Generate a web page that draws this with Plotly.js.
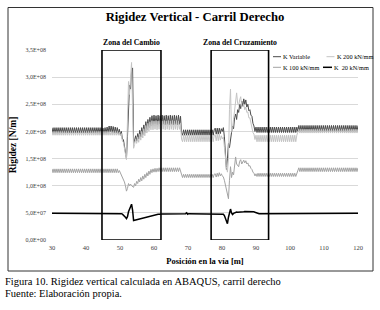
<!DOCTYPE html>
<html><head><meta charset="utf-8">
<script src="https://cdn.plot.ly/plotly-3.0.1.min.js"></script>
<style>html,body{margin:0;padding:0;background:#fff;overflow:hidden}#chart{width:380px;height:310px}</style>
</head><body><div id="chart"></div>
<script>
// Positions along the track: samples every 0.3 m starting at 30 m
const startPosition = 30;
const positionStep = 0.3;

// Stiffness values in units of 1E+06 N/m (one value per sample)
const kVariable = [
 207,197,207,197,207,197,207,197,207,197,
 207,197,207,197,207,197,207,197,207,197,
 207,197,207,197,207,197,207,197,207,197,
 207,197,207,197,207,197,207,197,207,197,
 207,197,207,197,207,197,207,197,207,197,
 206,196,207,197,208,198,210,199,210,198,
 209,197,208,197,207,196,204,
 194,200,186,185,170,165,150,190,265,285,
 278,310,317,178,184,192,182,196,186,202,
 190,207,194,212,198,218,203,222,207,226,
 210,229,212,230,213,229,212,230,213,229,
 212,230,213,229,212,230,213,229,212,230,
 213,229,212,230,213,229,212,230,213,228,
 198,193,203,193,203,193,203,193,203,193,
 203,193,203,193,203,193,203,193,203,193,
 203,193,203,193,203,193,203,193,203,193,
 203,193,203,206,195,206,195,206,196,205,
 200,207,190,150,130,150,178,170,190,198,
 210,205,225,232,222,240,235,250,242,256,
 246,260,250,258,245,250,238,240,230,228,
 215,210,200,208,
 198,208,198,208,198,208,198,208,198,208,
 198,208,198,208,198,208,198,208,198,208,
 198,208,198,208,198,208,198,208,198,208,
 198,208,198,208,198,208,198,208,198,208,
 200,211,200,211,200,211,200,211,200,211,
 200,211,200,211,200,211,200,211,200,211,
 200,211,200,211,200,211,200,211,200,211,
 200,211,200,211,200,211,200,211,200,211,
 200,211,200,211,200,211,200,211,200,211,
 200,211,200,211,200,211,200,211,200,211
];
const k200 = [
 200,193,200,193,200,193,200,193,200,193,
 200,193,200,193,200,193,200,193,200,193,
 200,193,200,193,200,193,200,193,200,193,
 200,193,200,193,200,193,200,193,200,193,
 200,193,200,193,200,193,200,193,200,193,
 200,193,200,193,200,193,200,193,200,193,
 200,193,200,193,200,193,199,
 192,196,182,180,166,160,148,220,292,268,
 300,327,240,169,176,186,178,190,180,195,
 184,200,188,205,192,211,197,215,201,218,
 203,220,203,219,204,220,203,219,204,220,
 203,219,204,220,203,219,204,220,203,219,
 204,220,203,219,204,220,203,219,204,215,
 186,181,193,181,193,181,193,181,193,181,
 193,181,193,181,193,181,193,181,193,181,
 193,181,193,181,193,181,193,181,193,181,
 193,181,193,194,183,195,183,195,184,192,
 186,190,172,150,135,125,150,240,278,200,
 205,222,240,258,271,252,248,258,264,248,
 245,250,240,245,235,236,225,225,215,210,
 198,195,185,193,
 181,193,181,193,181,193,181,193,181,193,
 181,193,181,193,181,193,181,193,181,193,
 181,193,181,193,181,193,181,193,181,193,
 181,193,181,193,181,193,181,193,181,193,
 197,204,197,204,197,204,197,204,197,204,
 197,204,197,204,197,204,197,204,197,204,
 197,204,197,204,197,204,197,204,197,204,
 197,204,197,204,197,204,197,204,197,204,
 197,204,197,204,197,204,197,204,197,204,
 197,204,197,204,197,204,197,204,197,204
];
const k100 = [
 131,124,131,124,131,124,131,124,131,124,
 131,124,131,124,131,124,131,124,131,124,
 131,124,131,124,131,124,131,124,131,124,
 131,124,131,124,131,124,131,124,131,124,
 131,124,131,124,131,124,131,124,131,124,
 131,124,131,124,131,124,131,124,131,124,
 131,124,131,124,131,124,128,
 124,121,117,113,107,100,90,95,104,100,
 103,100,98,97,104,100,108,104,112,107,
 115,109,118,112,121,115,124,118,127,121,
 130,124,131,125,132,125,132,126,133,126,
 133,126,133,126,133,126,133,126,133,126,
 133,126,133,126,133,126,133,126,133,126,
 120,115,121,115,121,115,121,115,121,115,
 121,115,121,115,121,115,121,115,121,115,
 121,115,121,115,121,115,121,115,121,115,
 121,115,121,122,116,123,117,124,118,122,
 118,116,110,100,95,85,76,110,135,115,
 125,120,140,153,140,137,135,145,148,140,
 145,147,142,146,140,142,136,137,132,130,
 125,123,118,122,
 117,123,117,123,117,123,117,123,117,123,
 117,123,117,123,117,123,117,123,117,123,
 117,123,117,123,117,123,117,123,117,123,
 117,123,117,123,117,123,117,123,117,123,
 126,133,126,133,126,133,126,133,126,133,
 126,133,126,133,126,133,126,133,126,133,
 126,133,126,133,126,133,126,133,126,133,
 126,133,126,133,126,133,126,133,126,133,
 126,133,126,133,126,133,126,133,126,133,
 126,133,126,133,126,133,126,133,126,133
];
const k20 = [
 49.5,49.5,49.5,49.5,49.5,49.5,49.5,49.5,49.5,49.5,
 49.5,49.5,49.5,49.5,49.5,49.5,49.5,49.5,49.5,49.5,
 49.5,49.5,49.5,49.5,49.5,49.5,49.5,49.5,49.5,49.5,
 49.5,49.5,49.5,49.5,49.5,49.5,49.5,49.5,49.5,49.5,
 49.5,49.5,49.5,49.5,49.5,49.5,49.5,49.5,49.5,49.5,
 49.5,49.5,49.5,49.5,49.5,49.5,49.5,49.5,49.5,49.5,
 49.5,49.5,49.5,49.5,49.5,49.5,49.5,
 49,48.5,47.5,46,44,42,39.5,43,52,58,
 62,66,55,36,36.5,37,38,38.5,39,39.5,
 40,40.5,41,41.5,42,42.5,43,43.5,44,44.5,
 45,45.5,46,46.5,47,47,47.5,47.5,47.5,48,
 48,48,48,48,48,48,48.5,48.5,48.5,48.5,
 48.5,48.5,48.5,48.5,48.5,48.5,48.5,48.5,48.5,48.5,
 48.5,48.5,48.5,48.5,48.5,50,47.5,48.5,48.5,48.5,
 48.5,48.5,48.5,48.5,48.5,48.5,48.5,48.5,48.5,48.5,
 48.5,48.5,48.5,48.5,48.5,48.5,48.5,48.5,48.5,48.5,
 48.5,48.5,48.5,48.5,48.5,48.5,48.5,48.5,48.5,48.5,
 48.5,47.5,45,40,34,30,42,52,57,50,
 47,49,50,51,51.5,51,51,51.5,52,52,
 52,52,52.5,52.5,52.5,52.5,52.5,52.5,53,53,
 52.5,52,51,50,
 49,48.5,48.5,48.5,48.5,48.5,48.5,48.5,48.5,48.5,
 48.5,48.5,48.5,48.5,48.5,48.5,48.5,48.5,48.5,48.5,
 48.5,48.5,48.5,48.5,48.5,48.5,48.5,48.5,48.5,48.5,
 48.5,48.5,48.5,48.5,48.5,48.5,48.5,48.5,48.5,48.5,
 49.5,49.5,49.5,49.5,49.5,49.5,49.5,49.5,49.5,49.5,
 49.5,49.5,49.5,49.5,49.5,49.5,49.5,49.5,49.5,49.5,
 49.5,49.5,49.5,49.5,49.5,49.5,49.5,49.5,49.5,49.5,
 49.5,49.5,49.5,49.5,49.5,49.5,49.5,49.5,49.5,49.5,
 49.5,49.5,49.5,49.5,49.5,49.5,49.5,49.5,49.5,49.5,
 49.5,49.5,49.5,49.5,49.5,49.5,49.5,49.5,49.5,49.5
];

const seriesNames = ['K Variable', 'K 200 kN/mm', 'K 100 kN/mm', 'K\u00a0 20 kN/mm'];
const xTickVals = [30, 40, 50, 60, 70, 80, 90, 100, 110, 120];
const yTickVals = [0, 50, 100, 150, 200, 250, 300, 350];
const yTickLabels = ['0,0E+00', '5,0E+07', '1,0E+08', '1,5E+08', '2,0E+08', '2,5E+08', '3,0E+08', '3,5E+08'];
const zoneNames = ['Zona del Cambio', 'Zona del Cruzamiento'];
const zoneStart = [44.7, 76.8];
const zoneEnd = [62.05, 93.7];
const captionLines = ['Figura 10. Rigidez vertical calculada en ABAQUS, carril derecho', 'Fuente: Elaboración propia.'];

const seriesValues = [kVariable, k200, k100, k20];
seriesValues.forEach((s, i) => { if (s.length !== 301) throw new Error('length mismatch ' + i + ': ' + s.length); });

// layout geometry (px)
const W = 380, H = 310, ML = 52, MR = 22, MT = 50, MB = 70;
const PW = W - ML - MR, PH = H - MT - MB;
const px = v => (v - ML) / PW;
const py = v => (H - MB - v) / PH;

const lineStyles = [
  {color: '#4a4a4a', width: 1},
  {color: '#c4c4c4', width: 1},
  {color: '#a3a3a3', width: 1},
  {color: '#000000', width: 1.5}
];
const serif = 'Liberation Serif';

const traces = seriesValues.map((vals, i) => ({
  type: 'scatter', mode: 'lines', x0: startPosition, dx: positionStep, y: vals, name: seriesNames[i],
  line: lineStyles[i], showlegend: false, hoverinfo: 'skip'
}));

const shapes = [];
const annotations = [];
zoneNames.forEach((name, i) => {
  shapes.push({type: 'rect', xref: 'x', yref: 'y', x0: zoneStart[i], x1: zoneEnd[i], y0: yTickVals[0], y1: yTickVals[yTickVals.length - 1],
    line: {color: '#000', width: 1.6}, fillcolor: 'rgba(0,0,0,0)'});
  annotations.push({xref: 'x', yref: 'paper', x: (zoneStart[i] + zoneEnd[i]) / 2, y: py(42), xanchor: 'center', yanchor: 'middle',
    text: '<b>' + name + '</b>', showarrow: false, font: {family: serif, size: 7.7, color: '#000'}});
});
// outer frame
shapes.push({type: 'rect', xref: 'paper', yref: 'paper', x0: px(8), x1: px(373), y0: py(271), y1: py(7.5), line: {color: '#333', width: 1}});
// legend drawn as two columns
const legPos = [[273, 281, 56.7], [326.5, 334.5, 56.7], [273, 281, 67.3], [323, 332, 67.3]];
seriesNames.forEach((n, i) => {
  const p = legPos[i];
  shapes.push({type: 'line', xref: 'paper', yref: 'paper', x0: px(p[0]), x1: px(p[1]), y0: py(p[2]), y1: py(p[2]), line: lineStyles[i]});
  annotations.push({xref: 'paper', yref: 'paper', x: px(p[1]), y: py(p[2]), xanchor: 'left', yanchor: 'middle', text: n, showarrow: false,
    font: {family: serif, size: 6.3, color: '#000'}});
});
// caption
captionLines.forEach((t, i) => {
  annotations.push({xref: 'paper', yref: 'paper', x: px(3), y: py(281 + i * 12), xanchor: 'left', yanchor: 'middle', text: t, showarrow: false,
    font: {family: serif, size: 10.5, color: '#000'}});
});

const layout = {
  width: W, height: H,
  font: {family: serif},
  margin: {l: ML, r: MR, t: MT, b: MB, pad: 0},
  paper_bgcolor: '#fff', plot_bgcolor: '#fff',
  title: {text: '<b>Rigidez Vertical - Carril Derecho</b>', font: {family: serif, size: 12.7, color: '#000'},
    x: 195 / W, xref: 'container', xanchor: 'center', y: 1 - 17 / H, yref: 'container', yanchor: 'middle'},
  xaxis: {range: [30, 120], tickvals: xTickVals, showgrid: false, zeroline: false, showline: false, ticks: '',
    tickfont: {family: serif, size: 6.5, color: '#404040'}, ticklabelstandoff: 2,
    title: {text: '<b>Posición en la vía [m]</b>', font: {family: serif, size: 8.5, color: '#000'}, standoff: 8}},
  yaxis: {range: [0, 350], tickvals: yTickVals, ticktext: yTickLabels, showgrid: true, gridcolor: '#d9d9d9', gridwidth: 1,
    zeroline: false, showline: false, ticks: '', tickfont: {family: serif, size: 6, color: '#404040'}, ticklabelstandoff: 5,
    title: {text: '<b>Rigidez [N/m]</b>', font: {family: serif, size: 9.5, color: '#000'}, standoff: 7}},
  shapes: shapes, annotations: annotations, showlegend: false
};

Plotly.newPlot('chart', traces, layout, {staticPlot: true, displayModeBar: false});
</script></body></html>
